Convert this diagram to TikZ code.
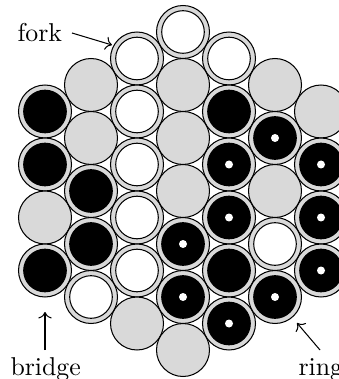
\documentclass[tikz,border=0pt]{standalone}
\usetikzlibrary{arrows.meta}
\definecolor{cellgray}{gray}{0.85}
\tikzset{
  cell/.style={circle, draw=black, fill=cellgray, minimum size=20.54pt, inner sep=0pt, outer sep=0pt},
  stoneW/.style={path picture={\draw[fill=white] (path picture bounding box.center) circle (8.26pt);}},
  stoneB/.style={path picture={\draw[fill=black] (path picture bounding box.center) circle (8.26pt);}},
  stoneD/.style={path picture={\draw[fill=black] (path picture bounding box.center) circle (8.26pt);
      \fill[white] (path picture bounding box.center) circle (1.55pt);}},
  stoneG/.style={},
  lbl/.style={inner sep=0pt, anchor=base west, font=\normalsize},
  pointer/.style={->, line width=0.4pt}
}
\begin{document}
\begin{tikzpicture}[x=0.3876pt, y=-0.3876pt]
\useasboundingbox (0,0) rectangle (338,379);
\foreach \c/\k/\t in {
  0/0/B, 0/1/B, 0/2/G, 0/3/B,
  1/0/G, 1/1/G, 1/2/B, 1/3/B, 1/4/W,
  2/0/W, 2/1/W, 2/2/W, 2/3/W, 2/4/W, 2/5/G,
  3/0/W, 3/1/G, 3/2/G, 3/3/G, 3/4/D, 3/5/D, 3/6/G,
  4/0/W, 4/1/B, 4/2/D, 4/3/D, 4/4/B, 4/5/D,
  5/0/G, 5/1/D, 5/2/G, 5/3/W, 5/4/D,
  6/0/G, 6/1/D, 6/2/D, 6/3/D}{
  \pgfmathsetmacro{\px}{45+46*\c}
  \pgfmathsetmacro{\py}{32+26.5*abs(\c-3)+53*\k}
  \node[cell, stone\t] (c\c-\k) at (\px,\py) {};
}
\node[lbl] (fork) at (17,42) {fork};
\node[lbl] (bridge) at (10,375) {bridge};
\node[lbl] (ring) at (298,375) {ring};
\coordinate (forkstart) at (72,33);
\coordinate (forktip) at (112,45);
\coordinate (bridgestart) at (45,350);
\coordinate (bridgetip) at (45,312);
\coordinate (ringstart) at (320,350);
\coordinate (ringtip) at (297,323);
\draw[pointer] (forkstart) -- (forktip);
\draw[pointer] (bridgestart) -- (bridgetip);
\draw[pointer] (ringstart) -- (ringtip);
\end{tikzpicture}
\end{document}
